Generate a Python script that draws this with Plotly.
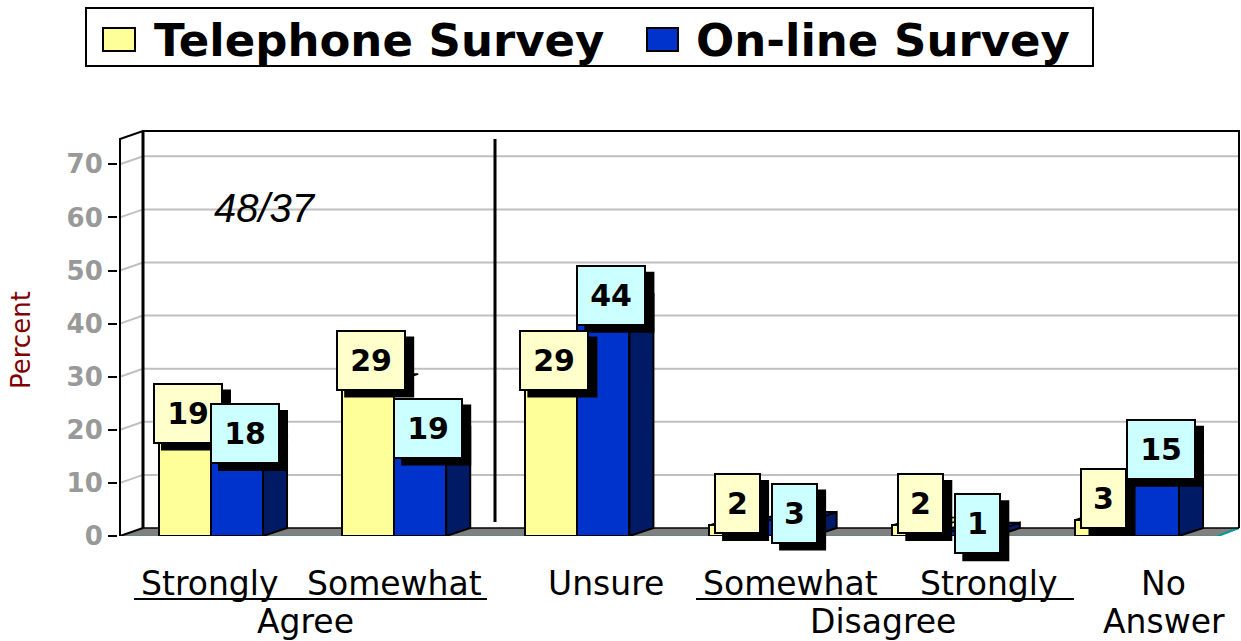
import plotly.graph_objects as go

# ---- data -------------------------------------------------------------
categories = ["Strongly Agree", "Somewhat Agree", "Unsure",
              "Somewhat Disagree", "Strongly Disagree", "No Answer"]
telephone = [19, 29, 29, 2, 2, 3]
online = [18, 19, 44, 3, 1, 15]
series_names = ["Telephone Survey", "On-line Survey"]
y_ticks = [0, 10, 20, 30, 40, 50, 60, 70]
agree_note = "48/37"

# two-line category captions (upper row, lower row) with their pixel centres
upper_labels = [("Strongly", 209), ("Somewhat", 394), ("Unsure", 606),
                ("Somewhat", 790), ("Strongly", 988), ("No", 1163)]
lower_labels = [("Agree", 305), ("Disagree", 883), ("Answer", 1164)]

# ---- geometry ---------------------------------------------------------
W, H = 1241, 641
ML, MR, MT, MB = 118, 0, 128, 105
X_PX = 183.2      # pixels per category step
Y_PX = 5.31       # pixels per percent
CAT0_PX = 211     # pixel centre of the first category
BW = 0.284        # bar width (category units)
DEPTH_X = 24 / X_PX
DEPTH_Y = 8 / Y_PX

TEL_FILL, TEL_TOP, TEL_BOX = "#FFFF99", "#EEEE88", "#FFFFCC"
ONL_FILL, ONL_SIDE, ONL_TOP, ONL_BOX = "#0033CC", "#001A66", "#0028A8", "#CCFFFF"
GRID = "#C0C0C0"


def dx(px):
    return (px - CAT0_PX) / X_PX


def dy(py):
    return (H - MB - py) / Y_PX


def paper_x(px):
    return (px - ML) / (W - ML - MR)


def paper_y(py):
    return (H - MB - py) / (H - MB - MT)


x_lo, x_hi = dx(ML), dx(W - MR)
y_hi = dy(MT)

front_x = dx(120)              # front edge of the left side wall
wall_x0 = front_x + 23 / X_PX  # back wall, left
wall_x1 = dx(1239)             # back wall, right
wall_top = dy(131)
wall_dy = 8 / Y_PX
floor_x1 = wall_x1 - 23 / X_PX

xs = list(range(len(categories)))

fig = go.Figure()
fig.add_trace(go.Bar(x=xs, y=telephone, width=BW, offset=-BW, name=series_names[0],
                     marker=dict(color=TEL_FILL, line=dict(color="black", width=2)),
                     showlegend=False, hoverinfo="skip"))
fig.add_trace(go.Bar(x=xs, y=online, width=BW, offset=0, name=series_names[1],
                     marker=dict(color=ONL_FILL, line=dict(color="black", width=2)),
                     showlegend=False, hoverinfo="skip"))

shapes = []

# floor
shapes.append(dict(type="path", xref="x", yref="y", layer="below",
                   path=f"M{front_x},0 L{floor_x1},0 L{wall_x1},{wall_dy} L{wall_x0},{wall_dy} Z",
                   fillcolor="#808080", line=dict(width=0)))
shapes.append(dict(type="path", xref="x", yref="y", layer="below",
                   path=f"M{front_x},{-0.15} L{floor_x1},{-0.15} L{wall_x1},{wall_dy}",
                   line=dict(color="#009999", width=2)))
shapes.append(dict(type="line", xref="x", yref="y", layer="below",
                   x0=wall_x0, y0=wall_dy, x1=wall_x1, y1=wall_dy,
                   line=dict(color="black", width=1.5)))

# gridlines: slanted across the side wall, then flat across the back wall
for v in y_ticks[1:]:
    shapes.append(dict(type="path", xref="x", yref="y", layer="below",
                       path=f"M{front_x},{v} L{wall_x0},{v + wall_dy} L{wall_x1},{v + wall_dy}",
                       line=dict(color=GRID, width=2)))

# walls
shapes.append(dict(type="path", xref="x", yref="y", layer="below",
                   path=f"M{front_x},0 L{front_x},{wall_top - wall_dy} L{wall_x0},{wall_top} "
                        f"L{wall_x1},{wall_top} L{wall_x1},{wall_dy}",
                   line=dict(color="black", width=2)))
shapes.append(dict(type="line", xref="x", yref="y", layer="below",
                   x0=front_x, y0=0, x1=wall_x0, y1=wall_dy,
                   line=dict(color="black", width=2)))
shapes.append(dict(type="line", xref="x", yref="y", layer="below",
                   x0=wall_x0, y0=wall_dy, x1=wall_x0, y1=wall_top,
                   line=dict(color="black", width=3)))
# divider between the agree pair and the rest
shapes.append(dict(type="line", xref="x", yref="y", layer="below",
                   x0=dx(495), y0=dy(522), x1=dx(495), y1=dy(139),
                   line=dict(color="black", width=3)))

# 3-D faces of the bars
for i, (t, o) in enumerate(zip(telephone, online)):
    shapes.append(dict(type="path", xref="x", yref="y", layer="below",
                       path=f"M{i - BW},{t} L{i},{t} L{i + DEPTH_X},{t + DEPTH_Y} "
                            f"L{i - BW + DEPTH_X},{t + DEPTH_Y} Z",
                       fillcolor=TEL_TOP, line=dict(color="black", width=1.5)))
    shapes.append(dict(type="path", xref="x", yref="y", layer="below",
                       path=f"M{i + BW},0 L{i + BW + DEPTH_X},{DEPTH_Y} "
                            f"L{i + BW + DEPTH_X},{o + DEPTH_Y} L{i + BW},{o} Z",
                       fillcolor=ONL_SIDE, line=dict(color="black", width=2)))
    shapes.append(dict(type="path", xref="x", yref="y", layer="below",
                       path=f"M{i},{o} L{i + BW},{o} L{i + BW + DEPTH_X},{o + DEPTH_Y} "
                            f"L{i + DEPTH_X},{o + DEPTH_Y} Z",
                       fillcolor=ONL_TOP, line=dict(color="black", width=2)))

# legend frame and swatches
shapes.append(dict(type="rect", xref="paper", yref="paper",
                   x0=paper_x(86), y0=paper_y(66), x1=paper_x(1093), y1=paper_y(8),
                   line=dict(color="black", width=2), fillcolor="white"))
shapes.append(dict(type="rect", xref="paper", yref="paper",
                   x0=paper_x(103), y0=paper_y(51), x1=paper_x(135), y1=paper_y(28),
                   line=dict(color="black", width=2), fillcolor=TEL_FILL))
shapes.append(dict(type="rect", xref="paper", yref="paper",
                   x0=paper_x(647), y0=paper_y(51), x1=paper_x(678), y1=paper_y(28),
                   line=dict(color="black", width=2), fillcolor=ONL_FILL))

# underlines tying the paired captions together
for x0, x1 in [(134, 487), (696, 1074)]:
    shapes.append(dict(type="line", xref="paper", yref="paper",
                       x0=paper_x(x0), y0=paper_y(599), x1=paper_x(x1), y1=paper_y(599),
                       line=dict(color="black", width=2)))

annotations = []

# value boxes, each with a black drop shadow behind it
box_font = dict(family="DejaVu Sans", size=30, color="black")
BOX_H = 57
for i, (t, o) in enumerate(zip(telephone, online)):
    for value, xc, lift, shift, fill in [(t, i - BW / 2, 22, 3, TEL_BOX),
                                         (o, i + BW / 2, 7, 8, ONL_BOX)]:
        bw = 66 if len(str(value)) > 1 else 43
        yc = value + lift / Y_PX
        ow, oh = bw + 4, BOX_H + 4
        shapes.append(dict(type="rect", layer="above",
                           xref="x", xsizemode="pixel", xanchor=xc,
                           x0=shift + 8 - ow / 2, x1=shift + 8 + ow / 2,
                           yref="paper", ysizemode="pixel", yanchor=yc / y_hi,
                           y0=-7 - oh / 2, y1=-7 + oh / 2,
                           fillcolor="black", line=dict(width=0)))
        annotations.append(dict(x=xc, y=yc, xref="x", yref="y", text=f"<b>{value}</b>",
                                showarrow=False, width=bw, height=BOX_H, borderpad=0,
                                borderwidth=2, valign="middle", align="center",
                                xanchor="center", yanchor="middle",
                                bgcolor=fill, bordercolor="black",
                                xshift=shift, font=box_font))

# legend text
legend_font = dict(family="DejaVu Sans", size=45, color="black")
for name, left in zip(series_names, [152, 694]):
    annotations.append(dict(x=paper_x(left), y=paper_y(40), xref="paper", yref="paper",
                            text=f"<b>{name}</b>", showarrow=False,
                            xanchor="left", yanchor="middle", font=legend_font))

# note inside the plot
annotations.append(dict(x=paper_x(265), y=paper_y(208), xref="paper", yref="paper",
                        text=f"<i>{agree_note}</i>", showarrow=False,
                        xanchor="center", yanchor="middle",
                        font=dict(family="Liberation Sans", size=40, color="black")))

# y-axis title
annotations.append(dict(x=paper_x(21), y=paper_y(340), xref="paper", yref="paper",
                        text="Percent", textangle=-90, showarrow=False,
                        xanchor="center", yanchor="middle",
                        font=dict(family="DejaVu Sans", size=26, color="#800000")))

# category captions
cap_font = dict(family="DejaVu Sans", size=33, color="black")
for text, cx in upper_labels:
    annotations.append(dict(x=paper_x(cx), y=paper_y(583), xref="paper", yref="paper",
                            text=text, showarrow=False, xanchor="center",
                            yanchor="middle", font=cap_font))
for text, cx in lower_labels:
    annotations.append(dict(x=paper_x(cx), y=paper_y(621), xref="paper", yref="paper",
                            text=text, showarrow=False, xanchor="center",
                            yanchor="middle", font=cap_font))

fig.update_layout(
    width=W, height=H,
    margin=dict(l=ML, r=MR, t=MT, b=MB, pad=0),
    paper_bgcolor="white", plot_bgcolor="white",
    barmode="overlay", bargap=0,
    showlegend=False,
    shapes=shapes, annotations=annotations,
    xaxis=dict(range=[x_lo, x_hi], showgrid=False, zeroline=False, showline=False,
               showticklabels=False, ticks="", fixedrange=True),
    yaxis=dict(range=[0, y_hi], tickvals=y_ticks, ticks="outside", ticklen=9,
               tickwidth=2, tickcolor="black", showgrid=False, zeroline=False,
               showline=False,
               tickfont=dict(family="DejaVu Sans", size=26, color="#999999", weight="bold"),
               fixedrange=True),
)

fig.write_html("out.html", config={"displayModeBar": False})
